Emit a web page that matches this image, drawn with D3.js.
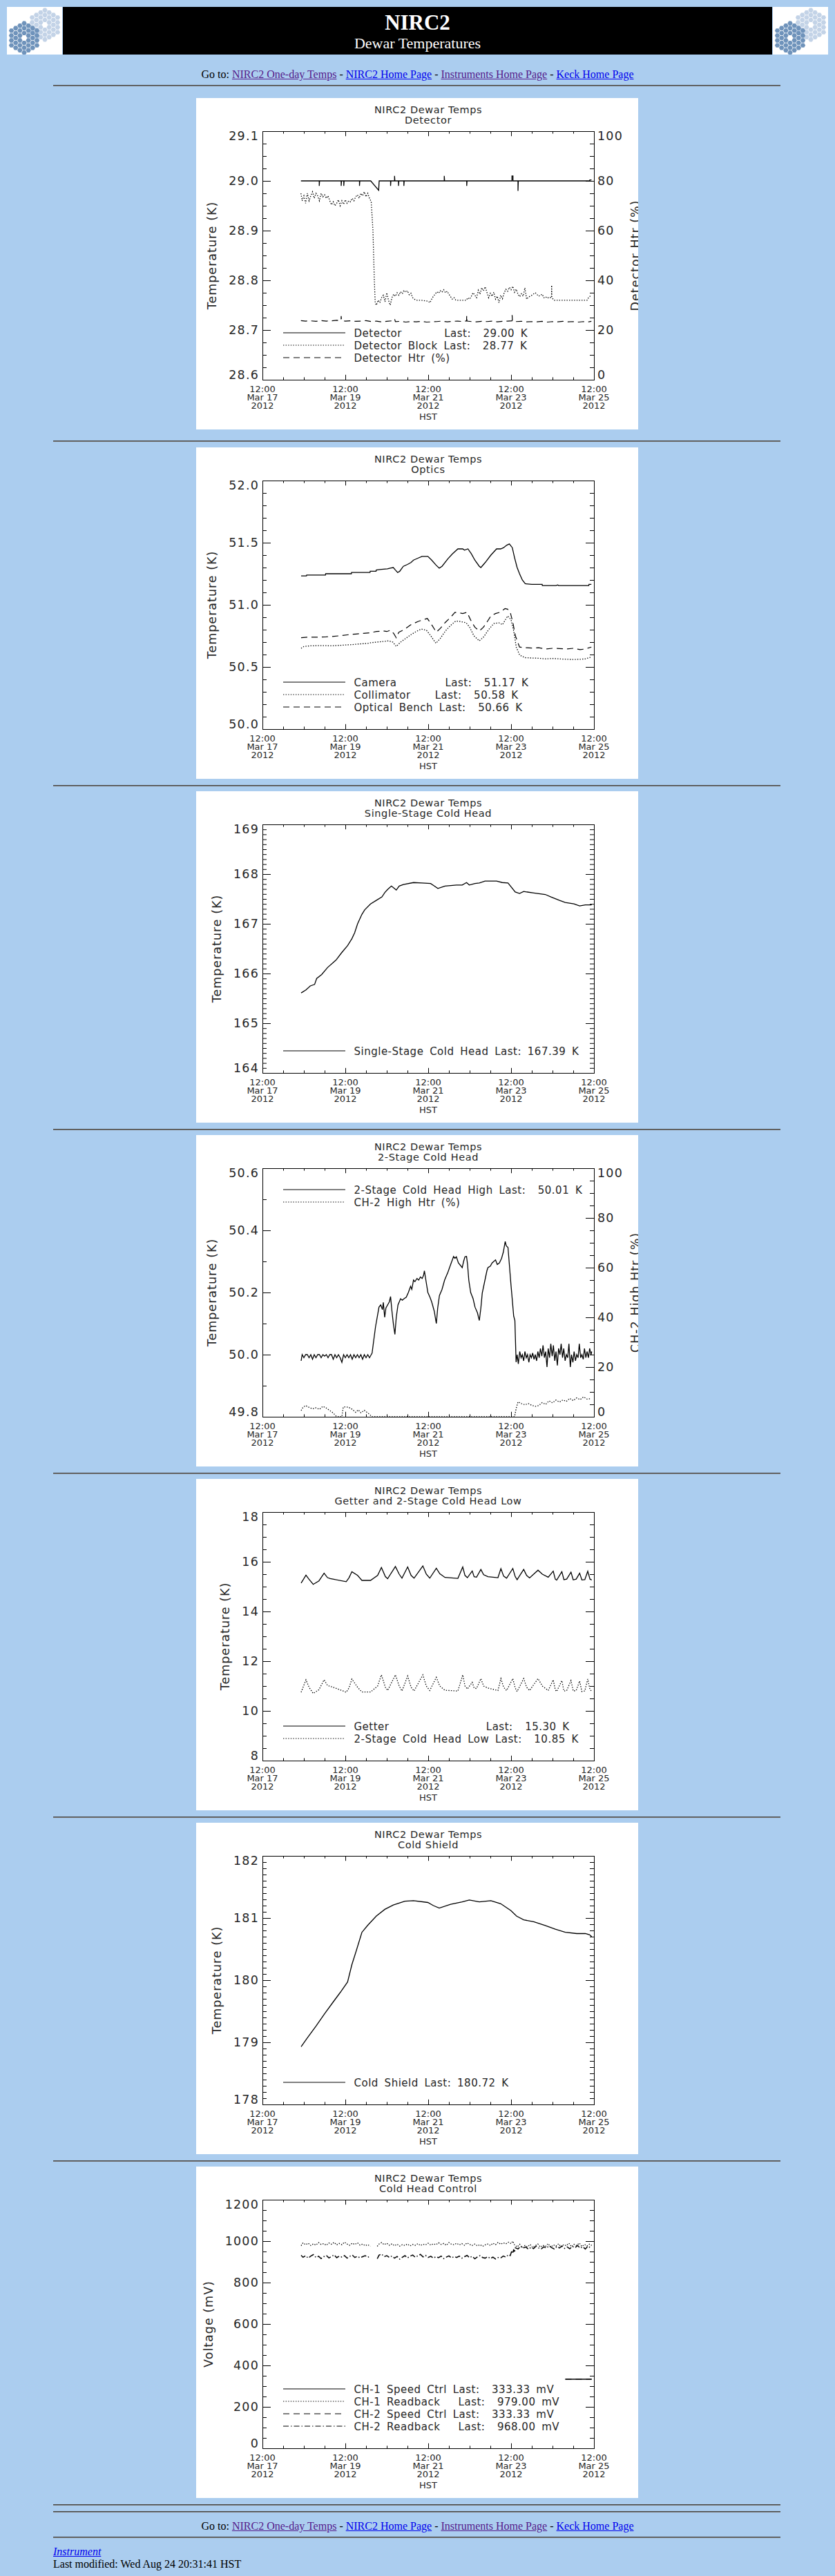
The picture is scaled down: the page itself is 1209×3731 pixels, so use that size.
<!DOCTYPE html>
<html>
<head>
<meta charset="utf-8">
<title>NIRC2 Dewar Temperatures</title>
<script src="https://cdn.jsdelivr.net/npm/d3@7"></script>
<style>
  body { margin: 0; background: #abcdef; font-family: "Liberation Serif", "Times New Roman", serif; font-size: 16px; }
  #page { position: relative; width: 1209px; height: 3731px; overflow: hidden; }
  .hr { position: absolute; left: 77px; width: 1053px; height: 0; border-top: 1px solid #4a4a4a; border-bottom: 1px solid #777; }
  .line { position: absolute; left: 0; width: 1209px; text-align: center; line-height: 16px; white-space: nowrap; }
  a.v { color: #551a8b; }
  a.u { color: #0000ee; }
  svg text { font-family: "DejaVu Sans", sans-serif; fill: #262626; }
</style>
</head>
<body>
<script>
// hours after 12:00 Mar 17 2012 (HST), value
var detector = [[22.3,29.0],[32.9,29.0],[32.9,28.99],[33.1,29.0],[45.6,29.0],[45.6,28.99],[45.8,29.0],[47.1,29.0],[47.1,28.99],[47.3,29.0],
  [56.2,29.0],[56.2,28.99],[56.4,29.0],[62.7,29.0],[67.3,28.981],[67.6,29.0],[74.2,29.0],[74.2,28.99],[74.4,29.0],[76.5,29.0],[76.5,29.01],
  [76.7,29.0],[78.8,29.0],[78.8,28.99],[79.0,29.0],[81.9,29.0],[81.9,28.99],[82.1,29.0],[105.3,29.0],[105.3,29.01],[105.5,29.0],[118.3,29.0],
  [118.3,28.99],[118.5,29.0],[144.5,29.0],[144.5,29.01],[145.1,29.01],[145.1,29.0],[148.0,29.0],[148.0,28.98],[148.2,29.0],[189.6,29.0],
  [189.6,29.002],[190.6,29.002]];
var detectorBlock = [[22.3,28.975],[23,28.96],[24,28.97],[25,28.955],[26,28.975],[27,28.96],[28,28.97],[29,28.978],[30,28.965],[31,28.975],
  [32,28.97],[33,28.96],[34,28.975],[35,28.968],[36,28.972],[37,28.965],[38,28.97],[39,28.96],[40,28.952],[41,28.958],[42,28.95],[43,28.955],
  [44,28.962],[45,28.95],[46,28.96],[47,28.953],[48,28.962],[49,28.955],[50,28.96],[51,28.958],[52,28.965],[53,28.96],[54,28.968],[55,28.972],
  [56,28.965],[57,28.975],[58,28.97],[59,28.978],[60,28.968],[61,28.975],[62,28.965],[63,28.958],[64,28.9],[64.8,28.8],[65.3,28.755],
  [66,28.75],[67,28.76],[68,28.755],[69,28.765],[70,28.77],[71,28.757],[72,28.775],[73,28.76],[74,28.75],[75,28.765],[76,28.772],[77,28.768],
  [78,28.775],[79,28.77],[80,28.777],[81,28.773],[82,28.78],[83,28.776],[84,28.779],[85,28.771],[86,28.774],[87,28.765],[88,28.762],[89,28.76],
  [92,28.76],[96,28.758],[97,28.755],[98,28.762],[99,28.768],[100,28.772],[101,28.777],[102,28.774],[103,28.779],[104,28.776],[105,28.781],
  [106,28.775],[107,28.778],[108,28.772],[109,28.767],[110,28.762],[111,28.765],[112,28.76],[118,28.76],[119,28.765],[120,28.762],[121,28.768],
  [122,28.775],[123,28.77],[124,28.765],[125,28.78],[126,28.772],[127,28.785],[128,28.779],[129,28.787],[130,28.776],[131,28.765],[132,28.774],
  [133,28.768],[134,28.776],[135,28.762],[136,28.768],[137,28.755],[138,28.77],[139,28.763],[140,28.775],[141,28.782],[142,28.778],[143,28.786],
  [144,28.781],[145,28.788],[146,28.776],[147,28.782],[148,28.772],[149,28.767],[150,28.773],[151,28.768],[152,28.785],[153,28.762],[154,28.766],
  [156,28.77],[158,28.775],[160,28.768],[162,28.772],[163,28.765],[164,28.767],[165,28.764],[166,28.766],[167.4,28.765],[167.5,28.79],[167.6,28.765],
  [169,28.76],[188,28.76],[189,28.766],[190.5,28.77]];
var detectorHtr = [[22.3,23.8],[25,23.6],[28,23.7],[31,23.5],[34,23.8],[37,23.6],[40,23.7],[43,23.9],[45.5,23.8],[45.6,25.6],[45.8,23.8],
  [48,23.6],[51,23.7],[54,23.5],[57,23.6],[60,23.8],[63,23.4],[66,23.6],[69,23.3],[72,23.5],[75,23.7],[76.5,24.5],[77,23.4],[80,23.5],
  [83,23.2],[86,23.4],[89,23.3],[92,23.5],[95,23.2],[98,23.3],[101,23.4],[104,23.6],[107,23.3],[110,23.5],[113,23.6],[116,23.4],[118.2,23.7],
  [118.3,25.8],[118.5,23.6],[121,23.4],[124,23.3],[127,23.5],[130,23.4],[133,23.6],[136,23.3],[139,23.5],[142,23.6],[144.5,23.7],[144.6,26.0],
  [144.8,23.6],[147,23.4],[150,23.5],[153,23.3],[156,23.4],[159,23.3],[162,23.5],[165,23.2],[168,23.4],[171,23.3],[174,23.5],[177,23.3],
  [180,23.4],[183,23.2],[186,23.4],[189,23.3],[190.5,23.5]];

var camera = [[22.4,51.233],[25.5,51.233],[25.6,51.24],[36.5,51.24],[36.6,51.25],[51.5,51.25],[51.6,51.26],[62.3,51.26],[62.4,51.27],
  [65.8,51.27],[65.9,51.28],[69,51.285],[72.4,51.29],[74,51.295],[75.8,51.3],[77,51.28],[78.3,51.26],[79.5,51.27],[81.6,51.31],[84,51.325],
  [86,51.34],[87.5,51.36],[90,51.375],[92.4,51.39],[95.8,51.39],[98,51.36],[100.5,51.32],[102.4,51.295],[104,51.31],[107.4,51.37],[110,51.41],
  [113.2,51.45],[116,51.45],[117,51.44],[119,51.45],[121,51.41],[123,51.36],[125.6,51.31],[126.5,51.3],[129,51.34],[132.3,51.4],[135.6,51.45],
  [138,51.45],[139.7,51.46],[141.5,51.48],[143,51.49],[144.7,51.46],[146,51.38],[147.5,51.3],[148.9,51.25],[150.5,51.2],[152.2,51.17],
  [156,51.165],[162,51.165],[162.1,51.155],[170,51.155],[171,51.16],[171.5,51.155],[189,51.155],[189.1,51.165],[190.5,51.165]];
var collimator = [[22.4,50.65],[24,50.665],[28,50.67],[34,50.672],[40,50.67],[46,50.675],[52,50.68],[56,50.685],[61,50.69],[63,50.695],
  [66,50.7],[70,50.705],[73,50.71],[75.5,50.7],[77.5,50.665],[80,50.7],[83,50.73],[86,50.76],[89,50.785],[92,50.805],[95,50.795],[97.5,50.75],
  [100.5,50.69],[103,50.73],[106,50.79],[109,50.835],[112,50.87],[115,50.865],[118,50.855],[120,50.82],[122.5,50.75],[125.6,50.71],[128,50.74],
  [131,50.8],[134,50.85],[137,50.855],[139,50.84],[142,50.91],[144,50.88],[145.5,50.79],[147,50.66],[149,50.595],[152,50.575],[156,50.572],
  [160,50.57],[164,50.565],[168,50.568],[172,50.565],[176,50.562],[180,50.56],[184,50.562],[187,50.565],[190.5,50.58]];
var opticalBench = [[22.4,50.735],[26,50.74],[32,50.74],[37,50.742],[40,50.745],[44,50.75],[50,50.76],[54,50.765],[58,50.77],[62,50.775],
  [66,50.785],[70,50.79],[72,50.785],[74,50.795],[76,50.77],[77.5,50.735],[79,50.78],[82,50.8],[86,50.84],[90,50.865],[93,50.88],[95.5,50.89],
  [98,50.84],[100.7,50.78],[103,50.81],[106,50.86],[109,50.9],[111.5,50.94],[114,50.935],[116,50.93],[118.5,50.94],[120.5,50.88],[123,50.82],
  [125.6,50.79],[128,50.82],[130,50.86],[132.3,50.91],[135,50.93],[137.5,50.94],[140.5,50.97],[142,50.965],[143.5,50.94],[145,50.86],
  [146.5,50.75],[148.9,50.66],[152,50.655],[156,50.652],[160,50.655],[164,50.645],[168,50.65],[172,50.648],[176,50.645],[180,50.65],
  [184,50.64],[187,50.645],[190.5,50.66]];

var singleStage = [[22.4,165.61],[25.2,165.67],[27.7,165.75],[30.2,165.78],[31.4,165.9],[34.3,165.98],[37.7,166.12],[42.6,166.27],[45.9,166.42],
  [49.3,166.56],[51.8,166.7],[53.4,166.82],[55.1,167.0],[57.6,167.19],[59.2,167.28],[62.6,167.4],[65.9,167.47],[69.2,167.54],[70.9,167.63],
  [72.5,167.69],[74.7,167.76],[77.5,167.68],[79.2,167.76],[81.6,167.79],[87.5,167.83],[92.4,167.82],[97.4,167.81],[99.1,167.77],[101.6,167.71],
  [105.7,167.76],[112.3,167.78],[115.7,167.78],[118.2,167.83],[119.8,167.78],[123.1,167.81],[125.6,167.82],[128.9,167.86],[135.6,167.86],
  [138.9,167.83],[142.2,167.82],[146.4,167.64],[148.9,167.61],[151.3,167.65],[157.2,167.62],[163.8,167.59],[167.1,167.54],[172.1,167.47],
  [175.4,167.43],[180.4,167.4],[183.7,167.36],[187,167.38],[190.3,167.38],[190.7,167.39]];

var stage2High = [[22.4,49.98],[23,50.0],[24,49.99],[25,50.0],[26,50.0],[27,49.99],[28,50.0],[29,49.985],[30,50.0],[31,49.99],[32,50.0],
  [33,50.0],[34,49.99],[35,50.0],[36,49.995],[37,50.0],[38,49.99],[39,50.0],[40,50.0],[41,49.985],[42,50.0],[43,49.99],[44,50.0],[45,49.99],
  [46,49.975],[47,50.0],[48,49.99],[49,50.0],[50,49.99],[51,50.0],[52,49.985],[53,50.0],[54,49.99],[55,50.0],[56,49.99],[57,50.0],[58,49.985],
  [59,50.0],[60,49.99],[61,50.0],[62,49.99],[63,50.0],[63.5,50.005],[64.2,50.035],[65.5,50.09],[67.5,50.153],[68.5,50.16],[69.5,50.145],
  [70,50.168],[70.8,50.12],[71.5,50.15],[72.5,50.16],[73.5,50.17],[74.2,50.187],[75,50.14],[75.8,50.1],[76.7,50.065],[77.5,50.12],[78.5,50.16],
  [80,50.18],[81,50.175],[82,50.18],[83.3,50.185],[84.5,50.2],[85.8,50.22],[86.5,50.21],[87.5,50.24],[88.3,50.235],[89.5,50.245],[90.5,50.24],
  [91.5,50.25],[92.5,50.245],[93.3,50.255],[93.8,50.27],[94.5,50.245],[95.8,50.2],[97,50.185],[98,50.17],[99.5,50.14],[100.7,50.1],
  [101.5,50.15],[102.5,50.19],[104,50.21],[105.5,50.24],[107.4,50.265],[109,50.29],[110.7,50.316],[111.5,50.31],[112.3,50.315],[113.5,50.295],
  [115,50.285],[115.7,50.28],[116.5,50.3],[117.3,50.315],[118.2,50.316],[118.8,50.29],[119.5,50.24],[120.6,50.2],[122,50.18],[123.1,50.153],
  [124.5,50.135],[125.6,50.11],[126.5,50.15],[127.3,50.198],[128.5,50.23],[130,50.27],[130.6,50.28],[132,50.285],[133,50.295],[134,50.3],
  [135,50.305],[136,50.29],[137.2,50.295],[138.5,50.31],[139.5,50.33],[140.6,50.364],[141.2,50.35],[142.2,50.345],[143,50.29],[143.9,50.227],
  [144.8,50.17],[145.5,50.124],[146.2,50.11],[146.9,49.976],[147.5,50.0],[148.2,49.97],[149,50.01],[149.8,49.99],[150.5,50.0],[151.3,49.98],
  [152,50.01],[152.8,49.99],[153.5,50.0],[154.3,49.975],[155,50.0],[155.8,49.99],[156.5,50.005],[157.3,49.985],[158,50.0],[158.8,49.98],
  [159.5,50.01],[160.3,49.99],[161,50.02],[161.8,49.995],[162.5,50.03],[163.3,49.99],[164,50.01],[164.8,49.96],[165.5,50.02],[166.3,49.99],
  [167,50.035],[167.8,49.995],[168.5,50.03],[169.3,49.98],[170,50.01],[170.8,49.965],[171.5,50.02],[172.3,50.0],[173,50.035],[173.8,49.99],
  [174.5,50.02],[175.3,49.98],[176,50.0],[176.8,49.99],[177.5,50.035],[178.3,49.96],[179,50.0],[179.8,49.975],[180.5,50.01],[181.3,49.98],
  [182,50.0],[182.8,49.99],[183.5,50.035],[184.3,49.99],[185,50.0],[185.8,49.985],[186.5,50.02],[187.3,49.99],[188,50.01],[188.8,49.99],
  [189.5,50.02],[190.3,50.0],[190.7,50.01]];
var ch2HighHtr = [[22.4,2.5],[23.5,3.8],[25,4.5],[27,3.8],[29,3.2],[31,3.6],[33,3.0],[35,4.2],[37,3.5],[39,2.5],[41,1.5],[42.6,0.3],[44,0],
  [46,0],[46.8,3.9],[48,4.0],[50,3.8],[52,3.0],[54,1.8],[55.5,2.8],[57,1.6],[59,2.6],[60.5,1.8],[62,1.0],[63.4,0],[146,0],[147,3.5],[148,6.0],
  [150,5.3],[152,4.8],[154,5.3],[156,4.6],[158,4.2],[160,4.5],[162,5.7],[164,5.0],[166,6.4],[168,5.6],[170,6.7],[172,5.9],[174,6.8],[176,6.2],
  [178,7.4],[180,6.5],[182,7.6],[184,6.9],[186,8.0],[188,7.1],[190.5,7.3]];

var getter = [[22.4,15.14],[25.2,15.46],[26.9,15.3],[29.4,15.09],[32.7,15.23],[35.7,15.54],[37.7,15.36],[39.3,15.32],[48.5,15.2],[50.1,15.35],
  [51.8,15.6],[55.1,15.45],[57.6,15.25],[62.6,15.25],[66.7,15.45],[68.9,15.77],[71.2,15.4],[72.5,15.32],[77.0,15.81],[79.2,15.5],[80.8,15.34],
  [84.1,15.79],[86.1,15.45],[87.8,15.34],[92.9,15.83],[94.9,15.5],[96.9,15.34],[100.7,15.74],[102.7,15.52],[105.7,15.37],[113.2,15.33],
  [116.0,15.79],[117.3,15.45],[118.7,15.36],[121.5,15.63],[122.6,15.4],[124,15.38],[126.5,15.69],[128.1,15.48],[130.6,15.4],[136.4,15.36],
  [138.1,15.72],[139.7,15.42],[141.4,15.34],[145.0,15.73],[146.4,15.4],[147.5,15.28],[151.3,15.69],[153,15.45],[154.7,15.35],[159.6,15.66],
  [162.1,15.5],[165.5,15.38],[168.4,15.62],[169.6,15.3],[170.4,15.26],[173.4,15.6],[174.6,15.28],[176.2,15.3],[178.7,15.58],[180,15.27],
  [181.7,15.3],[183.7,15.54],[185,15.27],[186.7,15.28],[188.4,15.62],[189.7,15.3],[190.7,15.27]];
var stage2Low = [[22.4,10.75],[25.2,11.25],[27,10.95],[29.4,10.7],[32.7,10.85],[35.7,11.25],[37.7,11.02],[41,10.95],[46,10.82],[48.5,10.75],
  [50.1,10.92],[51.8,11.28],[55.1,10.95],[57.6,10.76],[62.6,10.76],[66.7,11.0],[68.9,11.45],[71.2,10.95],[72.5,10.82],[77,11.45],[79.2,11.0],
  [80.8,10.8],[84.1,11.4],[86.1,10.95],[87.8,10.8],[92.9,11.45],[94.9,11.0],[96.9,10.82],[100.7,11.35],[102.7,11.0],[105.7,10.83],[113.2,10.8],
  [116.0,11.45],[117.3,11.0],[118.7,10.88],[121.5,11.15],[122.6,10.92],[124,10.9],[126.5,11.3],[128.1,11.0],[130.6,10.92],[136.4,10.82],
  [138.1,11.3],[139.7,10.95],[141.4,10.82],[145.0,11.3],[146.4,10.92],[147.5,10.78],[151.3,11.3],[153,10.95],[154.7,10.82],[159.6,11.3],
  [162.1,11.0],[165.5,10.82],[168.4,11.25],[169.6,10.85],[170.4,10.78],[173.4,11.22],[174.6,10.8],[176.2,10.82],[178.7,11.22],[180,10.8],
  [181.7,10.82],[183.7,11.2],[185,10.78],[186.7,10.8],[188.4,11.28],[189.7,10.85],[190.7,10.8]];

var coldShield = [[22.4,178.93],[26,179.07],[31,179.26],[36,179.46],[41,179.65],[45,179.8],[49.3,179.97],[51.8,180.25],[54.3,180.47],
  [57.6,180.77],[60.9,180.88],[65.9,181.03],[70.9,181.14],[75.8,181.21],[82.5,181.27],[87.5,181.28],[95.8,181.25],[99,181.2],[102.4,181.16],
  [109,181.22],[115.7,181.26],[119.8,181.29],[125.6,181.26],[132.3,181.28],[138,181.23],[143.9,181.12],[147.2,181.03],[151.3,180.97],
  [157.1,180.94],[163.8,180.88],[169.6,180.82],[175.4,180.77],[182,180.75],[187,180.75],[189.5,180.73],[190.7,180.7]];

var ch1Speed = [[175.4,333.33],[190.7,333.33]];
var ch2Speed = [[175.4,333.33],[190.7,333.33]];
var ch1Readback = [[22.4,978],[23.5,992],[25,983],[26.5,990],[28,979],[29.5,987],[31,981],[32.5,993],[34,984],[35.5,988],[37,980],[38.5,991],
  [40,985],[41.5,994],[43,982],[44.5,989],[46,983],[47.5,995],[49,986],[50.5,980],[52,990],[53.5,984],[55,992],[56.5,981],[58,986],[59.5,978],
  [61,983],[62.5,975],[64,null],[66.5,975],[67.5,986],[69,993],[70.5,983],[72,990],[73.5,980],[75,987],[76.5,978],[78,985],[79.5,976],[81,983],
  [82.5,979],[84,986],[85.5,977],[87,984],[88.5,980],[90,988],[91.5,979],[93,985],[94.5,982],[96,990],[97.5,981],[99,987],[100.5,983],[102,992],
  [103.5,984],[105,989],[106.5,980],[108,993],[109.5,985],[111,983],[112.5,990],[114,982],[115.5,988],[117,980],[118.5,992],[120,984],
  [121.5,979],[123,986],[124.5,977],[126,983],[127.5,975],[129,982],[130.5,986],[132,979],[133.5,990],[135,983],[136.5,994],[138,985],
  [139.5,992],[141,987],[142.5,995],[144,988],[145,1000],[146,982],[147.5,972],[149,985],[150.5,968],[152,979],[153.5,972],[155,984],
  [156.5,969],[158,978],[159.5,986],[161,971],[162.5,980],[164,975],[165.5,988],[167,970],[168.5,982],[170,976],[171.5,987],[173,972],
  [174.5,983],[176,978],[177.5,990],[179,973],[180.5,985],[182,979],[183.5,991],[185,974],[186.5,984],[188,977],[189.5,986],[190.7,979]];
var ch2Readback = [[22.4,932],[23.5,922],[25,930],[26.5,918],[28,928],[29.5,935],[31,921],[32.5,927],[34,916],[35.5,925],[37,931],[38.5,919],
  [40,926],[41.5,934],[43,920],[44.5,928],[46,923],[47.5,930],[49,918],[50.5,926],[52,933],[53.5,921],[55,927],[56.5,919],[58,925],[59.5,930],
  [61,922],[62.5,928],[64,null],[66.5,915],[67.5,932],[69,938],[70.5,925],[72,930],[73.5,921],[75,928],[76.5,918],[78,926],[79.5,913],[81,922],
  [82.5,930],[84,919],[85.5,927],[87,933],[88.5,922],[90,929],[91.5,936],[93,924],[94.5,931],[96,921],[97.5,927],[99,918],[100.5,925],[102,920],
  [103.5,928],[105,916],[106.5,923],[108,929],[109.5,919],[111,926],[112.5,921],[114,928],[115.5,918],[117,925],[118.5,931],[120,920],
  [121.5,927],[123,915],[124.5,924],[126,930],[127.5,921],[129,918],[130.5,925],[132,916],[133.5,923],[135,914],[136.5,921],[138,919],
  [139.5,928],[141,923],[142.5,935],[143.5,930],[144.5,955],[145,940],[145.5,960],[146,945],[146.5,968],[148,962],[149.5,975],[151,966],
  [152.5,972],[154,961],[155.5,970],[157,964],[158.5,976],[160,967],[161.5,963],[163,973],[164.5,966],[166,978],[167.5,969],[169,962],
  [170.5,974],[172,967],[173.5,977],[175,965],[176.5,972],[178,963],[179.5,975],[181,968],[182.5,979],[184,966],[185.5,973],[187,962],
  [188.5,976],[190,968],[190.7,968]];

var subTitles = ["Detector", "Optics", "Single-Stage Cold Head", "2-Stage Cold Head", "Getter and 2-Stage Cold Head Low", "Cold Shield", "Cold Head Control"];
var legendDetector = ["Detector       Last:  29.00 K", "Detector Block Last:  28.77 K", "Detector Htr (%)"];
var legendOptics = ["Camera        Last:  51.17 K", "Collimator    Last:  50.58 K", "Optical Bench Last:  50.66 K"];
var legendSingle = ["Single-Stage Cold Head Last: 167.39 K"];
var legendStage2 = ["2-Stage Cold Head High Last:  50.01 K", "CH-2 High Htr (%)"];
var legendGetter = ["Getter                Last:  15.30 K", "2-Stage Cold Head Low Last:  10.85 K"];
var legendShield = ["Cold Shield Last: 180.72 K"];
var legendControl = ["CH-1 Speed Ctrl Last:  333.33 mV", "CH-1 Readback   Last:  979.00 mV", "CH-2 Speed Ctrl Last:  333.33 mV", "CH-2 Readback   Last:  968.00 mV"];

var charts = [
  {sub: subTitles[0], yTitle: "Temperature (K)", y: [28.6, 29.1, 0.1, 0.025], fmt: ".1f",
   y2: [0, 100, 20, 5], y2Title: "Detector Htr (%)",
   series: [[detector, "solid"], [detectorBlock, "dot"], [detectorHtr, "dash", 2]], legend: legendDetector, legendTop: false},
  {sub: subTitles[1], yTitle: "Temperature (K)", y: [50.0, 52.0, 0.5, 0.1], fmt: ".1f",
   series: [[camera, "solid"], [collimator, "dot"], [opticalBench, "dash"]], legend: legendOptics, legendTop: false},
  {sub: subTitles[2], yTitle: "Temperature (K)", y: [164, 169, 1, 0.1], fmt: "d",
   series: [[singleStage, "solid"]], legend: legendSingle, legendTop: false},
  {sub: subTitles[3], yTitle: "Temperature (K)", y: [49.8, 50.6, 0.2, 0.1], fmt: ".1f",
   y2: [0, 100, 20, 5], y2Title: "CH-2 High Htr (%)",
   series: [[stage2High, "solid"], [ch2HighHtr, "dot", 2]], legend: legendStage2, legendTop: true},
  {sub: subTitles[4], yTitle: "Temperature (K)", y: [8, 18, 2, 0.5], fmt: "d",
   series: [[getter, "solid"], [stage2Low, "dot"]], legend: legendGetter, legendTop: false},
  {sub: subTitles[5], yTitle: "Temperature (K)", y: [178, 182, 1, 0.1], fmt: "d",
   series: [[coldShield, "solid"]], legend: legendShield, legendTop: false},
  {sub: subTitles[6], yTitle: "Voltage (mV)", y: [0, 1200, 200, 50], fmt: "d",
   series: [[ch1Speed, "solid"], [ch1Readback, "dot"], [ch2Speed, "dash"], [ch2Readback, "dashdot"]], legend: legendControl, legendTop: false}
];

var dashes = {solid: null, dot: "1.4,2.2", dash: "9,6", dashdot: "8,3,1.5,3"};
var widths = {solid: 1.3, dot: 1.3, dash: 1.2, dashdot: 1.5};

var t0 = new Date(Date.UTC(2012, 2, 17, 12));
var t1 = new Date(Date.UTC(2012, 2, 25, 12));
function toDate(h) { return new Date(t0.getTime() + h * 3600e3); }

var W = 640, H = 480;
var pL = 96, pR = 576, pT = 48, pB = 408;
var panelTops = [142, 648, 1146, 1644, 2142, 2640, 3138];

var page = d3.select("body").append("div").attr("id", "page");

// ---- header ----
function logo(x) {
  var s = page.append("svg").style("position", "absolute").style("left", x + "px").style("top", "10px")
    .attr("width", 80).attr("height", 69).style("background", "#fff");
  var r = 4.1, hexPath = d3.range(6).map(function(i) {
    var a = Math.PI / 3 * i;
    return [3.7 * Math.cos(a), 3.7 * Math.sin(a)];
  });
  function mirror(cx, cy, fill) {
    var cells = [];
    for (var q = -3; q <= 3; q++) {
      for (var rr = -3; rr <= 3; rr++) {
        if (Math.abs(-q - rr) > 3) continue;
        cells.push([cx + 1.5 * r * q, cy + Math.sqrt(3) * r * (rr + q / 2), q === 0 && rr === 0]);
      }
    }
    s.append("g").selectAll("path").data(cells).join("path")
      .attr("d", function(d) { return "M" + hexPath.map(function(p) { return [d[0] + p[0], d[1] + p[1]]; }).join("L") + "Z"; })
      .attr("fill", function(d) { return d[2] ? "#fff" : fill; });
  }
  mirror(55, 26, "#c3d3e7");
  mirror(25, 45, "#6f93bb");
}
logo(10);
logo(1119);

var banner = page.append("div").style("position", "absolute").style("left", "91px").style("top", "10px")
  .style("width", "1027px").style("height", "69px").style("background", "#000").style("color", "#fff").style("text-align", "center");
banner.append("div").text("NIRC2").style("position", "absolute").style("left", 0).style("right", 0).style("top", "7px")
  .style("font-size", "31px").style("font-weight", "bold").style("line-height", "31px");
banner.append("div").text("Dewar Temperatures").style("position", "absolute").style("left", 0).style("right", 0).style("top", "42px")
  .style("font-size", "22px").style("line-height", "22px");

function navLine(y) {
  var d = page.append("div").attr("class", "line").style("top", y + "px");
  d.append("span").text("Go to: ");
  d.append("a").attr("class", "v").attr("href", "#").text("NIRC2 One-day Temps");
  d.append("span").text(" - ");
  d.append("a").attr("class", "u").attr("href", "#").text("NIRC2 Home Page");
  d.append("span").text(" - ");
  d.append("a").attr("class", "v").attr("href", "#").text("Instruments Home Page");
  d.append("span").text(" - ");
  d.append("a").attr("class", "u").attr("href", "#").text("Keck Home Page");
}
navLine(100);

[123, 637.5, 1136.5, 1634.5, 2132.5, 2630.5, 3128.5, 3627, 3637, 3674].forEach(function(y) {
  page.append("div").attr("class", "hr").style("top", y + "px");
});

navLine(3651);
page.append("div").style("position", "absolute").style("left", "77px").style("top", "3688px").style("line-height", "16px")
  .append("a").attr("class", "u").attr("href", "#").style("font-style", "italic").text("Instrument");
page.append("div").style("position", "absolute").style("left", "77px").style("top", "3706px").style("line-height", "16px")
  .text("Last modified: Wed Aug 24 20:31:41 HST");

// ---- charts ----
function stepValues(lo, hi, step) {
  var n = Math.round((hi - lo) / step);
  return d3.range(n + 1).map(function(i) { return +(lo + i * step).toFixed(6); });
}

var xMajor = d3.utcHour.range(t0, toDate(193), 48);
var xMinor = d3.utcHour.range(t0, toDate(193), 12);

function ticks(g, axis, vals, size) {
  g.call(axis.tickValues(vals).tickSize(size).tickSizeOuter(0).tickFormat(""));
  g.select(".domain").remove();
  g.selectAll("line").attr("stroke", "#000");
}

charts.forEach(function(c, i) {
  var svg = page.append("svg").style("position", "absolute").style("left", "284px").style("top", panelTops[i] + "px")
    .attr("width", W).attr("height", H).style("background", "#fff");

  var x = d3.scaleUtc().domain([t0, t1]).range([pL, pR]);
  var y = d3.scaleLinear().domain([c.y[0], c.y[1]]).range([pB, pT]);
  var y2 = c.y2 ? d3.scaleLinear().domain([c.y2[0], c.y2[1]]).range([pB, pT]) : null;

  var yMaj = stepValues(c.y[0], c.y[1], c.y[2]);
  var yMin = stepValues(c.y[0], c.y[1], c.y[3]);

  ticks(svg.append("g").attr("transform", "translate(0," + pB + ")"), d3.axisBottom(x), xMinor, -3.6);
  ticks(svg.append("g").attr("transform", "translate(0," + pB + ")"), d3.axisBottom(x), xMajor, -7.2);
  ticks(svg.append("g").attr("transform", "translate(0," + pT + ")"), d3.axisTop(x), xMinor, -3.6);
  ticks(svg.append("g").attr("transform", "translate(0," + pT + ")"), d3.axisTop(x), xMajor, -7.2);
  ticks(svg.append("g").attr("transform", "translate(" + pL + ",0)"), d3.axisLeft(y), yMin, -6);
  ticks(svg.append("g").attr("transform", "translate(" + pL + ",0)"), d3.axisLeft(y), yMaj, -12);
  if (y2) {
    ticks(svg.append("g").attr("transform", "translate(" + pR + ",0)"), d3.axisRight(y2), stepValues(c.y2[0], c.y2[1], c.y2[3]), -6);
    ticks(svg.append("g").attr("transform", "translate(" + pR + ",0)"), d3.axisRight(y2), stepValues(c.y2[0], c.y2[1], c.y2[2]), -12);
  } else {
    ticks(svg.append("g").attr("transform", "translate(" + pR + ",0)"), d3.axisRight(y), yMin, -6);
    ticks(svg.append("g").attr("transform", "translate(" + pR + ",0)"), d3.axisRight(y), yMaj, -12);
  }
  svg.append("rect").attr("x", pL + 0.5).attr("y", pT + 0.5).attr("width", pR - pL).attr("height", pB - pT)
    .attr("fill", "none").attr("stroke", "#000").attr("shape-rendering", "crispEdges");

  // titles
  svg.append("text").attr("x", (pL + pR) / 2).attr("y", 22).attr("text-anchor", "middle")
    .style("font-size", "14.5px").style("letter-spacing", "0.6px").text("NIRC2 Dewar Temps");
  svg.append("text").attr("x", (pL + pR) / 2).attr("y", 37).attr("text-anchor", "middle")
    .style("font-size", "14.5px").style("letter-spacing", "0.6px").text(c.sub);

  // y labels, the end ones are pulled inside the axis range
  function nudge(v, vals) { return v === vals[0] ? -7 : v === vals[vals.length - 1] ? 7 : 0; }
  var fmt = d3.format(c.fmt);
  var yl = svg.append("g").selectAll("text").data(yMaj).join("text")
    .attr("x", 91).attr("y", function(d) { return y(d) + 6.3 + nudge(d, yMaj); })
    .attr("text-anchor", "end").style("font-size", "17.5px").style("letter-spacing", "1.2px")
    .text(function(d) { return fmt(d); });
  var minX = d3.min(yl.nodes(), function(n) { return n.getBBox().x; });
  svg.append("text").attr("transform", "translate(" + (minX - 24) + "," + (pT + pB) / 2 + ") rotate(-90)")
    .attr("text-anchor", "middle").attr("dominant-baseline", "central")
    .style("font-size", "17.5px").style("letter-spacing", "1px").text(c.yTitle);

  if (y2) {
    var y2Maj = stepValues(c.y2[0], c.y2[1], c.y2[2]);
    svg.append("g").selectAll("text").data(y2Maj).join("text")
      .attr("x", 581).attr("y", function(d) { return y2(d) + 6.3 + nudge(d, y2Maj); })
      .style("font-size", "17.5px").style("letter-spacing", "1.2px").text(function(d) { return d; });
    svg.append("text").attr("transform", "translate(636," + (pT + pB) / 2 + ") rotate(-90)")
      .attr("text-anchor", "middle").attr("dominant-baseline", "central")
      .style("font-size", "17.5px").style("letter-spacing", "1px").text(c.y2Title);
  }

  // x labels
  var xl = svg.append("g").selectAll("text").data(xMajor).join("text")
    .attr("text-anchor", "middle").style("font-size", "13px");
  [["%H:%M", 426], ["%b %d", 438], ["%Y", 450]].forEach(function(f) {
    var tf = d3.utcFormat(f[0]);
    xl.append("tspan").attr("x", function(d) { return x(d); }).attr("y", f[1]).text(function(d) { return tf(d); });
  });
  svg.append("text").attr("x", (pL + pR) / 2).attr("y", 465.5).attr("text-anchor", "middle")
    .style("font-size", "13px").text("HST");

  // data
  c.series.forEach(function(s) {
    var ys = s[2] === 2 ? y2 : y;
    var line = d3.line().defined(function(d) { return d[1] !== null; })
      .x(function(d) { return x(toDate(d[0])); }).y(function(d) { return ys(d[1]); });
    svg.append("path").datum(s[0]).attr("d", line).attr("fill", "none").attr("stroke", "#000")
      .attr("stroke-width", widths[s[1]]).attr("stroke-dasharray", dashes[s[1]]);
  });

  // legend
  var n = c.legend.length;
  var rows = c.legend.map(function(t, k) {
    return {text: t, style: c.series[k][1], y: c.legendTop ? 79 + k * 18 : 376 - (n - 1 - k) * 18};
  });
  var lg = svg.append("g");
  lg.selectAll("line").data(rows).join("line")
    .attr("x1", 126).attr("x2", 216).attr("y1", function(d) { return d.y; }).attr("y2", function(d) { return d.y; })
    .attr("stroke", "#000").attr("stroke-width", 1.1).attr("stroke-dasharray", function(d) { return dashes[d.style]; });
  lg.selectAll("text").data(rows).join("text")
    .attr("x", 228.5).attr("y", function(d) { return d.y + 5.5; })
    .style("font-size", "15px").style("letter-spacing", "0.5px").style("word-spacing", "3.5px").style("white-space", "pre")
    .text(function(d) { return d.text; });
});
</script>
</body>
</html>
